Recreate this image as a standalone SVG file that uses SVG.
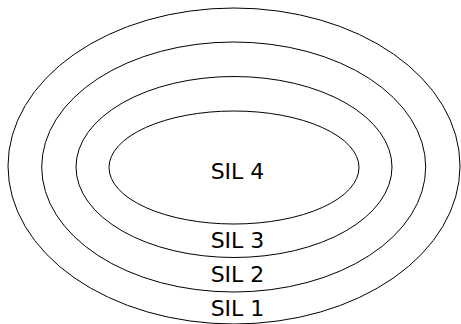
<svg xmlns="http://www.w3.org/2000/svg" width="461" height="324" viewBox="0 0 461 324">
  <style>
    .ring { fill: none; stroke: #000; stroke-width: 1; }
    .label { font-family: "DejaVu Sans", sans-serif; font-size: 22px; fill: #000; text-anchor: middle; }
  </style>
  <rect width="461" height="324" fill="#fff"/>
  <g id="sil1">
    <ellipse class="ring" cx="234" cy="166" rx="226" ry="158"/>
    <text class="label" x="237.5" y="316">SIL 1</text>
  </g>
  <g id="sil2">
    <ellipse class="ring" cx="233.7" cy="167" rx="192" ry="125"/>
    <text class="label" x="237.5" y="281.5">SIL 2</text>
  </g>
  <g id="sil3">
    <ellipse class="ring" cx="234" cy="167" rx="158" ry="90.5"/>
    <text class="label" x="237.5" y="247.5">SIL 3</text>
  </g>
  <g id="sil4">
    <ellipse class="ring" cx="234" cy="167.5" rx="125" ry="56.5"/>
    <text class="label" x="237.5" y="178.5">SIL 4</text>
  </g>
</svg>
